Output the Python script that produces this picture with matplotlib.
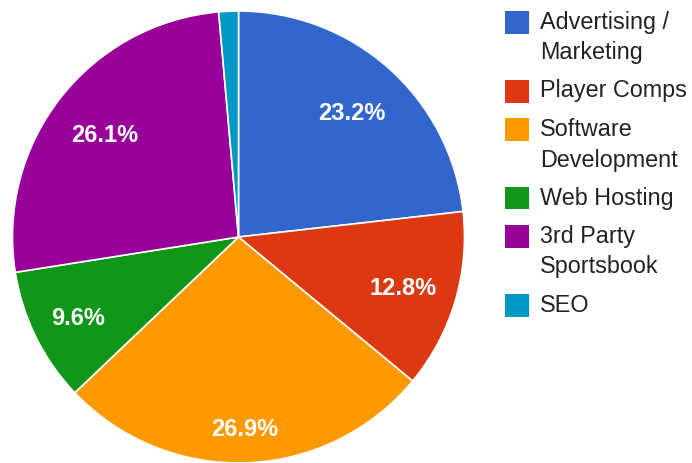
import matplotlib
matplotlib.use("Agg")
import matplotlib.pyplot as plt
from matplotlib.patches import Rectangle
import numpy as np

categories = ["Advertising /\nMarketing", "Player Comps", "Software\nDevelopment",
              "Web Hosting", "3rd Party\nSportsbook", "SEO"]
values = [23.2, 12.8, 26.9, 9.6, 26.1, 1.4]
colors = ["#3366cc", "#dc3912", "#ff9900", "#109618", "#990099", "#0099c6"]
label_radius = [0.75, 0.76, 0.84, 0.79, 0.75, 0.75]

W, H = 692, 463
fig = plt.figure(figsize=(W / 100, H / 100), dpi=100)
cx, cy, R = 238.5, 463 - 237, 226
ax = fig.add_axes([(cx - R) / W, (cy - R) / H, 2 * R / W, 2 * R / H])

wedges, _ = ax.pie(values, colors=colors, startangle=90, counterclock=False,
                   radius=1.0, wedgeprops=dict(edgecolor="white", linewidth=1.2))
ax.set_xlim(-1, 1)
ax.set_ylim(-1, 1)
ax.set_aspect("equal")
ax.axis("off")

total = sum(values)
for w, v, rf in zip(wedges, values, label_radius):
    if v / total < 0.05:
        continue
    ang = np.deg2rad((w.theta1 + w.theta2) / 2)
    ax.text(rf * np.cos(ang), rf * np.sin(ang), f"{v:.1f}%", color="white",
            fontsize=17, fontweight="bold", family="Liberation Sans",
            ha="center", va="center_baseline")

# legend
y = 22
for cat, col in zip(categories, colors):
    lines = cat.split("\n")
    fig.patches.append(Rectangle((505 / W, 1 - (y + 11.5) / H), 24 / W, 23 / H,
                                 transform=fig.transFigure, facecolor=col,
                                 edgecolor="none"))
    for i, ln in enumerate(lines):
        fig.text(540 / W, 1 - (y + 31 * i) / H, ln, fontsize=16.8,
                 family="Liberation Sans", color="#222222", ha="left", va="center")
    y += 31 * (len(lines) - 1) + 38

fig.savefig("out.png", dpi=100)
